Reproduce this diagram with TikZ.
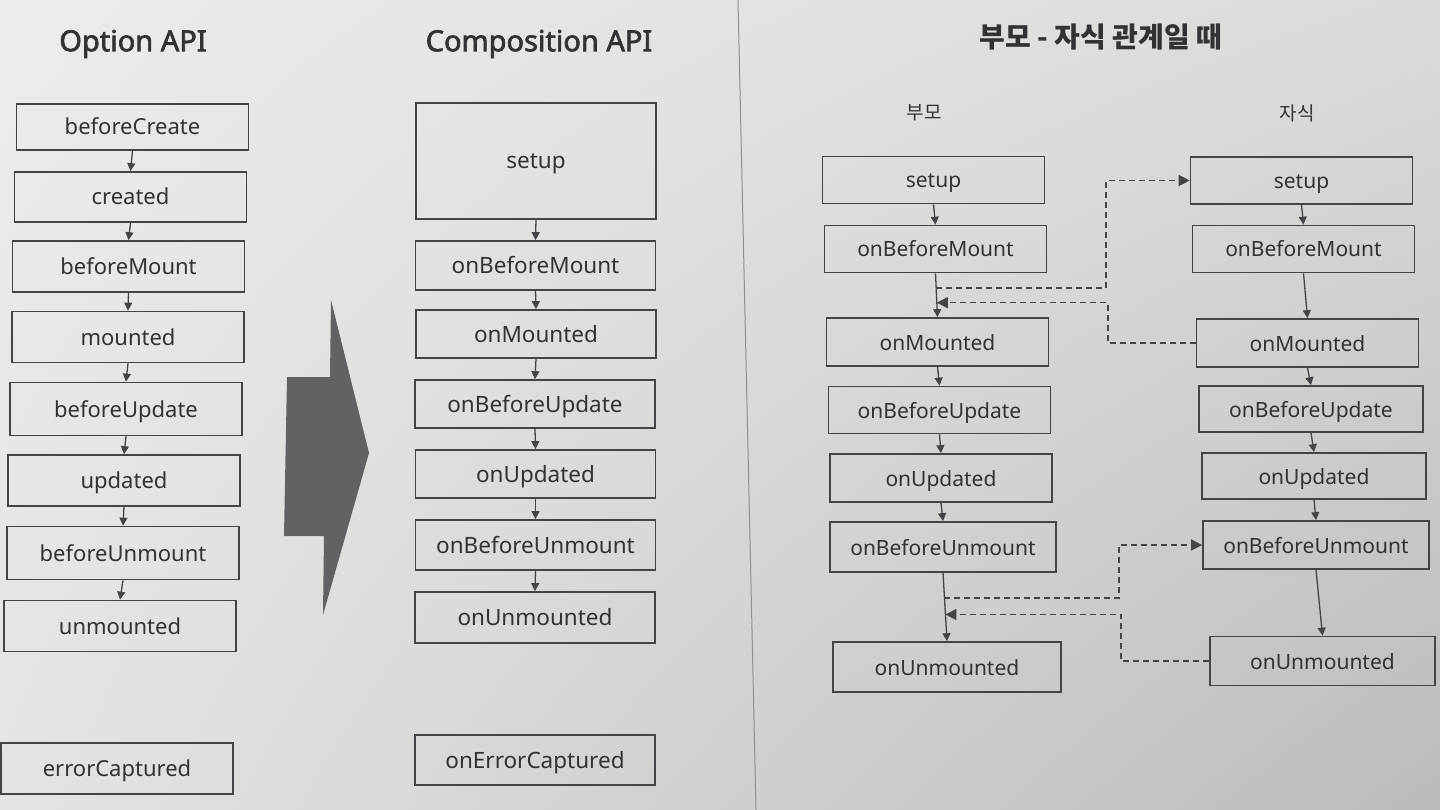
\documentclass[tikz,border=0pt]{standalone}
\usepackage{fontspec}
\setmainfont{Noto Sans}
\newfontfamily\titlefont{Noto Sans}[AutoFakeBold=2.2]
\newfontfamily\krfont{Noto Sans CJK KR}
\usetikzlibrary{arrows.meta,calc,shadings}
\definecolor{ink}{RGB}{50,50,50}
\definecolor{edge}{RGB}{68,68,68}
\definecolor{bgA}{RGB}{236,236,234}
\definecolor{bgB}{RGB}{220,219,216}
\definecolor{bgC}{RGB}{228,228,226}
\definecolor{bgD}{RGB}{188,187,183}
\definecolor{bigfill}{RGB}{98,98,98}
\tikzset{
  box/.style={draw=edge, line width=1.7pt, text=ink, inner sep=0pt,
    text height=20pt, text depth=4pt, font=\fontsize{22}{26}\selectfont},
  lbox/.style={box, minimum width=232pt, minimum height=51pt},
  mbox/.style={box, minimum width=240pt, minimum height=49pt, font=\fontsize{22.5}{26}\selectfont},
  rbox/.style={box, minimum width=222pt, minimum height=47pt, font=\fontsize{21}{25}\selectfont},
  arr/.style={draw=edge, line width=1.3pt, -{Triangle[length=8pt,width=8pt]}},
  dline/.style={draw=edge, line width=1.4pt, dash pattern=on 6pt off 4pt},
  dtip/.style={dline, -{Triangle[length=11pt,width=11pt]}},
  title/.style={text=ink, font=\titlefont\fontsize{29}{33}\selectfont\bfseries},
  krtitle/.style={text=ink, font=\krfont\fontsize{28}{32}\selectfont\bfseries},
  krlabel/.style={text=ink, font=\krfont\fontsize{19}{24}\selectfont},
}
\begin{document}
\begin{tikzpicture}[x=1pt,y=-1pt]
\useasboundingbox (0,0) rectangle (1440,810);
\shade[upper left=bgA, upper right=bgB, lower left=bgC, lower right=bgD] (0,0) rectangle (1440,810);
\draw[color=edge!60, line width=1pt] (738,0) -- (756,810);

% titles
\node[title] (t1) at (133,44) {Option API};
\node[title] (t2) at (539,44) {Composition API};
\node[krtitle] (t3) at (1101,37) {부모 - 자식 관계일 때};
\node[krlabel] (lp) at (924,113) {부모};
\node[krlabel] (lc) at (1297,113) {자식};

% Option API
\node[lbox, minimum height=46pt] (o1) at (132.5,127) {beforeCreate};
\node[lbox, minimum height=50pt] (o2) at (130.5,197) {created};
\node[lbox] (o3) at (128.5,266.5) {beforeMount};
\node[lbox] (o4) at (128,337) {mounted};
\node[lbox, minimum height=53pt] (o5) at (126,409) {beforeUpdate};
\node[lbox] (o6) at (124,480.5) {updated};
\node[lbox, minimum height=53pt] (o7) at (123,553) {beforeUnmount};
\node[lbox] (o8) at (120,626) {unmounted};
\node[lbox] (o9) at (117,768.5) {errorCaptured};
\foreach \a/\b in {o1/o2,o2/o3,o3/o4,o4/o5,o5/o6,o6/o7,o7/o8}
  \draw[arr] (\a.south) -- (\b.north);

% big arrow
\fill[bigfill] (331,300) -- (369,453) -- (323,615) -- (324,536) -- (284,536)
  -- (287,377) -- (330,377) -- cycle;

% Composition API
\node[mbox, minimum height=116pt] (c1) at (536,161) {setup};
\node[mbox] (c2) at (535.5,265.5) {onBeforeMount};
\node[mbox, minimum height=48pt] (c3) at (536,334) {onMounted};
\node[mbox, minimum height=48pt] (c4) at (535,404) {onBeforeUpdate};
\node[mbox, minimum height=48pt] (c5) at (535.5,474) {onUpdated};
\node[mbox, minimum height=50pt] (c6) at (535.5,545) {onBeforeUnmount};
\node[mbox, minimum height=51pt] (c7) at (535,617.5) {onUnmounted};
\node[mbox, minimum height=50pt] (c8) at (535,760) {onErrorCaptured};
\foreach \a/\b in {c1/c2,c2/c3,c3/c4,c4/c5,c5/c6,c6/c7}
  \draw[arr] (\a.south) -- (\b.north);

% parent
\node[rbox] (p1) at (933.5,180) {setup};
\node[rbox] (p2) at (935.5,249) {onBeforeMount};
\node[rbox, minimum height=48pt] (p3) at (937.5,342) {onMounted};
\node[rbox] (p4) at (939.5,410) {onBeforeUpdate};
\node[rbox, minimum height=48pt] (p5) at (941,478) {onUpdated};
\node[rbox, minimum height=50pt, minimum width=226pt] (p6) at (943,547) {onBeforeUnmount};
\node[rbox, minimum height=50pt, minimum width=228pt] (p7) at (947,667) {onUnmounted};
\foreach \a/\b in {p1/p2,p2/p3,p3/p4,p4/p5,p5/p6,p6/p7}
  \draw[arr] (\a.south) -- (\b.north);

% child
\node[rbox] (k1) at (1301.5,180.5) {setup};
\node[rbox] (k2) at (1303.5,249) {onBeforeMount};
\node[rbox, minimum height=48pt] (k3) at (1307.5,343) {onMounted};
\node[rbox, minimum height=46pt, minimum width=224pt] (k4) at (1311,409) {onBeforeUpdate};
\node[rbox, minimum height=46pt, minimum width=224pt] (k5) at (1314,476) {onUpdated};
\node[rbox, minimum height=48pt, minimum width=226pt] (k6) at (1316,545) {onBeforeUnmount};
\node[rbox, minimum height=49pt, minimum width=225pt] (k7) at (1322.5,661) {onUnmounted};
\foreach \a/\b in {k1/k2,k2/k3,k3/k4,k4/k5,k5/k6,k6/k7}
  \draw[arr] (\a.south) -- (\b.north);

% dashed connectors
\coordinate (m1) at ($(p2.south)!0.33!(p3.north)$);
\coordinate (m2) at ($(p2.south)!0.67!(p3.north)$);
\coordinate (m3) at ($(p6.south)!0.37!(p7.north)$);
\coordinate (m4) at ($(p6.south)!0.61!(p7.north)$);
\coordinate (x1) at (1106,0);
\coordinate (x2) at (1108,0);
\coordinate (x3) at (1119,0);
\coordinate (x4) at (1121,0);
\draw[dtip] (m1) -- (m1 -| x1) |- (k1.west);
\draw[dtip] (k3.west) -- (k3.west -| x2) |- (m2);
\draw[dtip] (m3) -- (m3 -| x3) |- (k6.west);
\draw[dtip] (k7.west) -- (k7.west -| x4) |- (m4);
\end{tikzpicture}
\end{document}
